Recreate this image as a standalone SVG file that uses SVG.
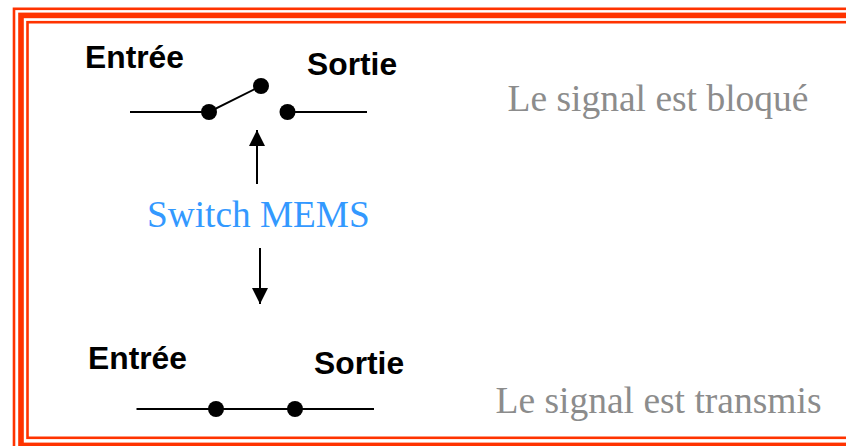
<svg xmlns="http://www.w3.org/2000/svg" width="846" height="446" viewBox="0 0 846 446">
<style>
.f{fill:none;stroke:#ff3300}
.w{stroke:#000;stroke-width:2;fill:none}
.d{fill:#000}
.b{font-family:"Liberation Sans",Arial,sans-serif;font-weight:bold;font-size:31.8px;fill:#000}
.s{font-family:"Liberation Serif","Times New Roman",serif;font-size:37.5px;fill:#8c8c8c}
</style>
<defs><marker id="a" markerUnits="userSpaceOnUse" markerWidth="16" markerHeight="18" refX="16" refY="8" orient="auto"><path d="M0 0L16 8L0 16Z" fill="#000"/></marker></defs>
<rect width="846" height="446" fill="#fff"/>
<g id="frame">
<rect class="f" x="14" y="8.8" width="900" height="500" stroke-width="2.6"/>
<rect class="f" x="21" y="15.4" width="900" height="430" stroke-width="5.6"/>
<rect class="f" x="27.5" y="22.2" width="900" height="415.6" stroke-width="2.6"/>
</g>
<g id="connectors">
<path class="w" d="M130 112H209L261 86"/>
<path class="w" d="M287.500 112H367"/>
<path class="w" d="M136.500 409H374"/>
<path class="w" d="M257 184V130" marker-end="url(#a)"/>
<path class="w" d="M260 248V304" marker-end="url(#a)"/>
</g>
<g id="switch-open">
<circle class="d" cx="209" cy="112" r="8"/>
<circle class="d" cx="261" cy="86" r="8"/>
<circle class="d" cx="287.500" cy="112" r="8"/>
<text class="b" x="85" y="68">Entrée</text>
<text class="b" x="307" y="75">Sortie</text>
<text class="s" x="507.500" y="111">Le signal est bloqué</text>
</g>
<g id="switch-label"><text class="s" x="147" y="227" style="fill:#3399ff;font-size:37.300px">Switch MEMS</text></g>
<g id="switch-closed">
<circle class="d" cx="216" cy="409" r="8"/>
<circle class="d" cx="295" cy="409" r="8"/>
<text class="b" x="88" y="369">Entrée</text>
<text class="b" x="314" y="374">Sortie</text>
<text class="s" x="495.500" y="413">Le signal est transmis</text>
</g>
</svg>
